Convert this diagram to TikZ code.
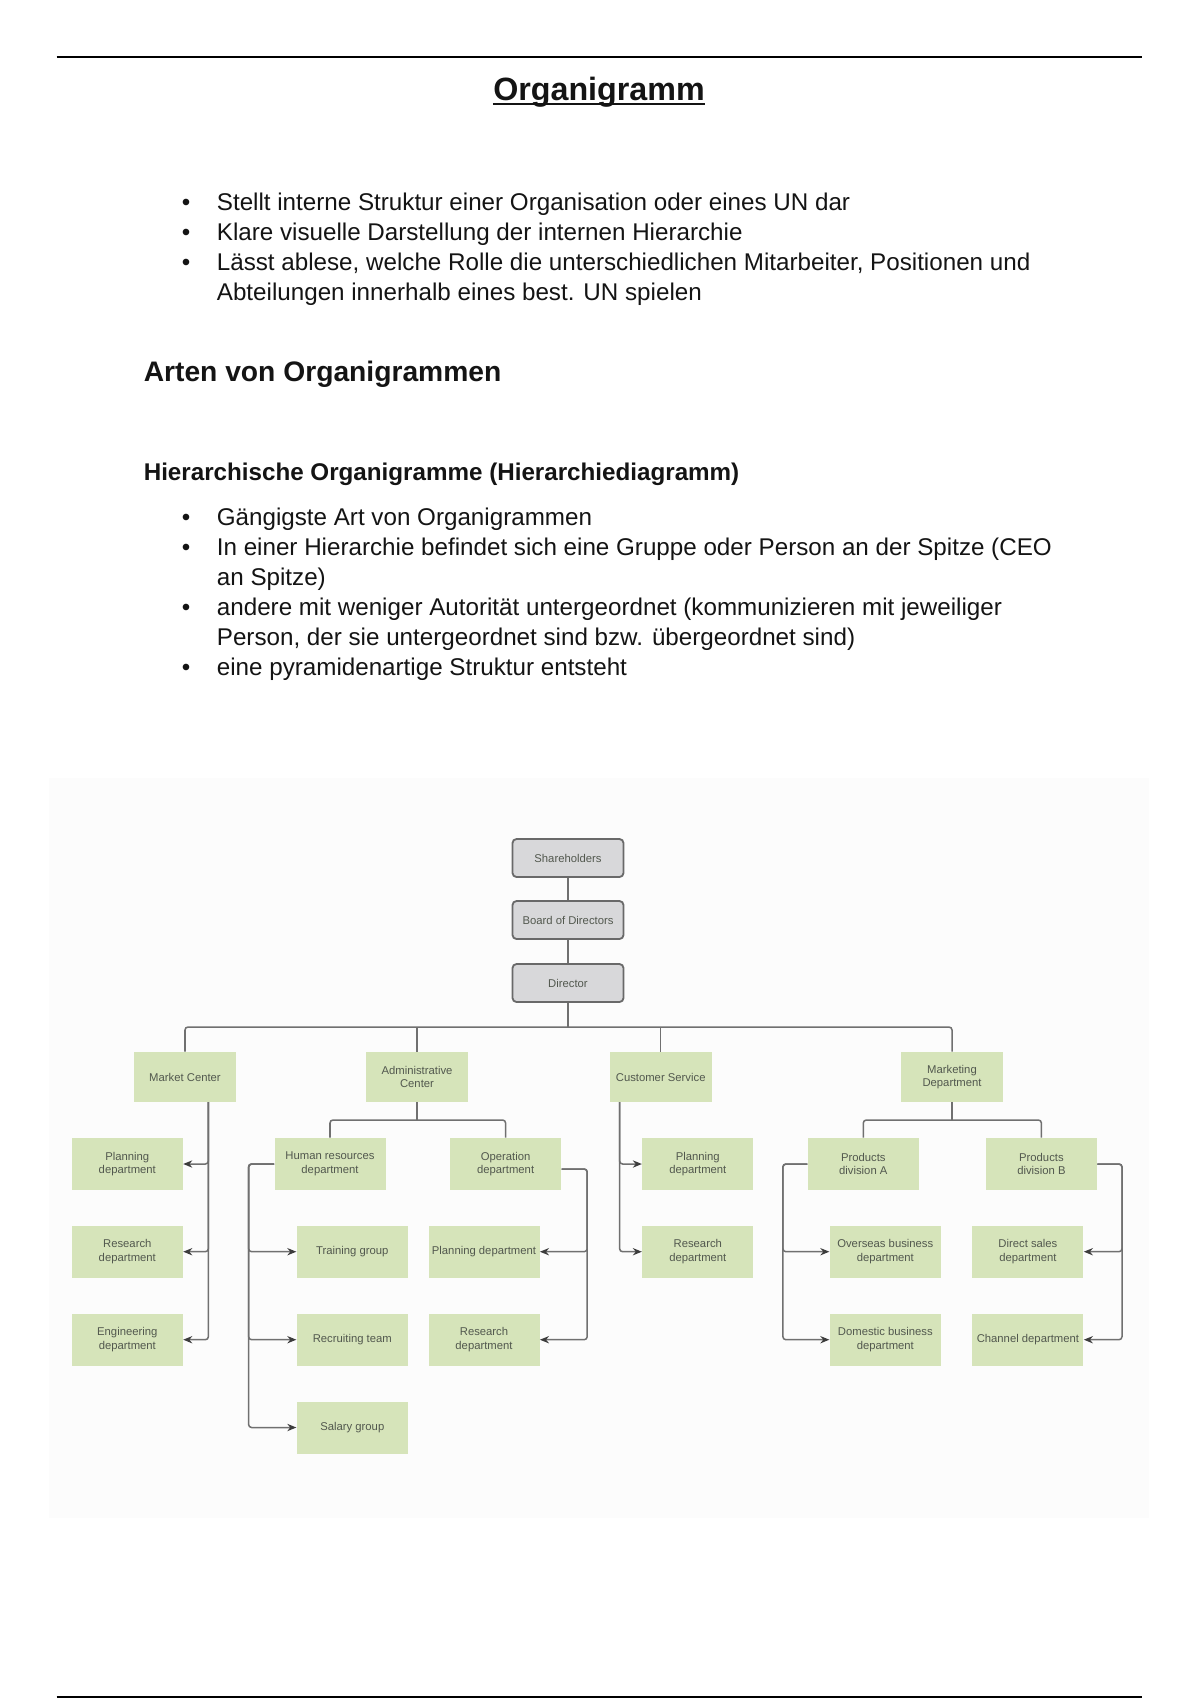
\documentclass[tikz,border=0pt]{standalone}
\usepackage{fontspec}
\setmainfont{Liberation Sans}
\usetikzlibrary{arrows.meta}
\definecolor{boxgreen}{RGB}{214,228,186}
\definecolor{boxgray}{RGB}{216,216,218}
\definecolor{edgegray}{RGB}{105,105,105}
\definecolor{linegray}{RGB}{112,112,112}
\definecolor{arrowdark}{RGB}{60,60,60}
\definecolor{boxtext}{RGB}{82,88,78}
\definecolor{bodytext}{RGB}{20,20,20}
\definecolor{diagbg}{RGB}{252,252,252}
\begin{document}
\begin{tikzpicture}[x=0.4961pt,y=-0.4961pt,
  sz/.style 2 args={minimum width=#1*0.4961pt,minimum height=#2*0.4961pt},
  boxfont/.style={font=\fontsize{5.6}{6.8}\selectfont, align=center, text=boxtext},
  topbox/.style={boxfont, sz={111}{38}, draw=edgegray, line width=0.9pt, fill=boxgray, rounded corners=2pt, inner sep=0pt},
  midbox/.style={boxfont, sz={102}{50}, fill=boxgreen, inner sep=0pt},
  lowbox/.style={boxfont, sz={111}{52}, fill=boxgreen, inner sep=0pt},
  link/.style={draw=linegray, line width=0.75pt, rounded corners=1.5pt},
  arr/.style={link, -{Stealth[length=4.5pt,width=3.6pt,color=arrowdark]}},
  bodyline/.style={anchor=base west, inner sep=0pt, font=\fontsize{12}{14}\selectfont, text=bodytext},
  bulletmark/.style={anchor=base, inner sep=0pt, font=\fontsize{12}{14}\selectfont, text=bodytext},
]
\useasboundingbox (0,0) rectangle (1200,1700);
\fill[white] (0,0) rectangle (1200,1700);
\fill[diagbg] (49,778) rectangle (1149,1518);

% page rules
\draw[line width=1pt, black] (56.6,57) -- (1142,57);
\draw[line width=1pt, black] (56.6,1697) -- (1142,1697);

% title
\node[anchor=base, inner sep=0pt, font=\fontsize{16}{19}\selectfont\bfseries, text=bodytext] (title) at (599,100) {Organigramm};
\draw[line width=1.1pt, bodytext] ([yshift=-2pt]title.base west) -- ([yshift=-2pt]title.base east);

% first list
\node[bulletmark] (b1) at (186,210) {•};
\node[bodyline] (t1) at (216.5,210) {Stellt interne Struktur einer Organisation oder eines UN dar};
\node[bulletmark] (b2) at (186,240) {•};
\node[bodyline] (t2) at (216.5,240) {Klare visuelle Darstellung der internen Hierarchie};
\node[bulletmark] (b3) at (186,270) {•};
\node[bodyline] (t3) at (216.5,270) {Lässt ablese, welche Rolle die unterschiedlichen Mitarbeiter, Positionen und};
\node[bodyline] (t3b) at (216.5,300) {Abteilungen innerhalb eines best. UN spielen};

% headings
\node[anchor=base west, inner sep=0pt, font=\fontsize{14}{17}\selectfont\bfseries, text=bodytext] (h1) at (143.4,381.7) {Arten von Organigrammen};
\node[anchor=base west, inner sep=0pt, font=\fontsize{12}{14}\selectfont\bfseries, text=bodytext] (h2) at (143.4,480) {Hierarchische Organigramme (Hierarchiediagramm)};

% second list
\node[bulletmark] (c1) at (186,525) {•};
\node[bodyline] (s1) at (216.5,525) {Gängigste Art von Organigrammen};
\node[bulletmark] (c2) at (186,555) {•};
\node[bodyline] (s2) at (216.5,555) {In einer Hierarchie befindet sich eine Gruppe oder Person an der Spitze (CEO};
\node[bodyline] (s2b) at (216.5,585) {an Spitze)};
\node[bulletmark] (c3) at (186,615) {•};
\node[bodyline] (s3) at (216.5,615) {andere mit weniger Autorität untergeordnet (kommunizieren mit jeweiliger};
\node[bodyline] (s3b) at (216.5,645) {Person, der sie untergeordnet sind bzw. übergeordnet sind)};
\node[bulletmark] (c4) at (186,675) {•};
\node[bodyline] (s4) at (216.5,675) {eine pyramidenartige Struktur entsteht};

% top boxes
\node[topbox] (sh) at (568,858) {Shareholders};
\node[topbox] (bd) at (568,920) {Board of Directors};
\node[topbox] (dr) at (568,983) {Director};

% second level
\node[midbox] (mc) at (185,1077) {Market Center};
\node[midbox] (ac) at (417,1077) {Administrative\\Center};
\node[midbox] (cs) at (660.7,1077) {Customer Service};
\node[midbox] (md) at (952,1077) {Marketing\\Department};

% lower level
\node[lowbox] (mpl) at (127.3,1164) {Planning\\department};
\node[lowbox] (mrs) at (127.3,1251.7) {Research\\department};
\node[lowbox] (men) at (127.3,1339.7) {Engineering\\department};
\node[lowbox] (hr) at (330,1164) {Human resources\\department};
\node[lowbox] (op) at (505.6,1164) {Operation\\department};
\node[lowbox] (tg) at (352.3,1251.7) {Training group};
\node[lowbox] (rt) at (352.3,1339.7) {Recruiting team};
\node[lowbox] (sg) at (352.3,1427.5) {Salary group};
\node[lowbox] (opl) at (484,1251.7) {Planning department};
\node[lowbox] (ors) at (484,1339.7) {Research\\department};
\node[lowbox] (cpl) at (697.8,1164) {Planning\\department};
\node[lowbox] (crs) at (697.8,1251.7) {Research\\department};
\node[lowbox] (pa) at (863.3,1164) {Products\\division A};
\node[lowbox] (pb) at (1041.4,1164) {Products\\division B};
\node[lowbox] (ov) at (885.3,1251.7) {Overseas business\\department};
\node[lowbox] (dom) at (885.3,1339.7) {Domestic business\\department};
\node[lowbox] (dsd) at (1027.9,1251.7) {Direct sales\\department};
\node[lowbox] (chd) at (1027.9,1339.7) {Channel department};

% junctions
\coordinate (bus) at (568,1027);
\coordinate (acj) at (417,1120);
\coordinate (mdj) at (952,1120);
\coordinate (mcl) at (208.4,1102);
\coordinate (hrj) at (248.6,1164);
\coordinate (opj) at (587.2,1169);
\coordinate (csl) at (619.6,1102);
\coordinate (paj) at (782.9,1164);
\coordinate (pbj) at (1122,1164);

% connectors
\draw[link] (sh.south) -- (bd.north);
\draw[link] (bd.south) -- (dr.north);
\draw[link] (dr.south) -- (bus);
\draw[link] (mc.north) |- (bus) -| (md.north);
\draw[link] (ac.north) -- (ac.north |- bus);
\draw[link] (cs.north) -- (cs.north |- bus);

\draw[link] (ac.south) -- (acj);
\draw[link] (hr.north) |- (acj) -| (op.north);
\draw[link] (md.south) -- (mdj);
\draw[link] (pa.north) |- (mdj) -| (pb.north);

\draw[arr] (mcl) |- (mpl.east);
\draw[arr] (mcl) |- (mrs.east);
\draw[arr] (mcl) |- (men.east);

\draw[arr] (hr.west) -- (hrj) |- (tg.west);
\draw[arr] (hr.west) -- (hrj) |- (rt.west);
\draw[arr] (hr.west) -- (hrj) |- (sg.west);

\draw[arr] ([yshift=-2.5pt]op.east) -- (opj) |- (opl.east);
\draw[arr] ([yshift=-2.5pt]op.east) -- (opj) |- (ors.east);

\draw[arr] (csl) |- (cpl.west);
\draw[arr] (csl) |- (crs.west);

\draw[arr] (pa.west) -- (paj) |- (ov.west);
\draw[arr] (pa.west) -- (paj) |- (dom.west);

\draw[arr] (pb.east) -- (pbj) |- (dsd.east);
\draw[arr] (pb.east) -- (pbj) |- (chd.east);
\end{tikzpicture}
\end{document}
